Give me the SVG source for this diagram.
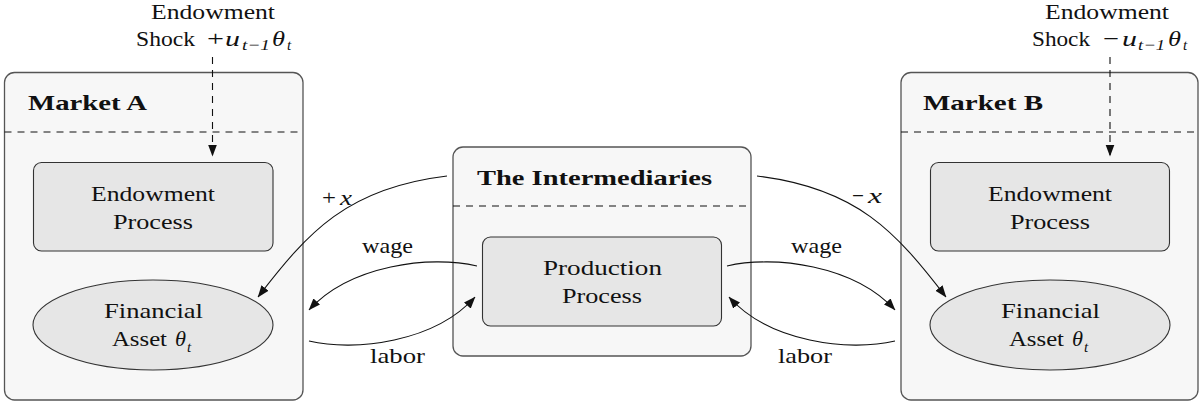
<svg xmlns="http://www.w3.org/2000/svg" width="1203" height="405" viewBox="0 0 1203 405" font-family="'Liberation Serif', serif">
<style>
text{font-family:'Liberation Serif',serif;font-size:22px;fill:#111}
.b{font-weight:bold;font-size:21px}
.i{font-style:italic}
.s{font-size:15px;font-style:italic}
.outer{fill:#f7f7f7;stroke:#555;stroke-width:1.3}
.inner{fill:#e6e6e6;stroke:#333;stroke-width:1.1}
.dash{stroke:#111;stroke-width:1.1;stroke-dasharray:7,6;fill:none}
.conn{fill:none;stroke:#111;stroke-width:1.1}
</style>
<defs>
<marker id="ah" viewBox="0 0 12 10" refX="11.5" refY="5" markerWidth="12" markerHeight="10" markerUnits="userSpaceOnUse" orient="auto">
<path d="M0,0.5 L12,5 L0,9.5 Z" fill="#111"/>
</marker>
</defs>
<rect width="1203" height="405" fill="#fff"/>

<g id="marketA">
<rect class="outer" x="4.5" y="72.5" width="298.5" height="327.5" rx="10"/>
<line class="dash" x1="4.5" y1="132" x2="303" y2="132"/>
<text class="b" x="28" y="110" textLength="119" lengthAdjust="spacingAndGlyphs">Market A</text>
</g>
<g id="endowA">
<rect class="inner" x="33.5" y="162.5" width="239.5" height="88.5" rx="8"/>
<text x="91" y="201" textLength="124" lengthAdjust="spacingAndGlyphs">Endowment</text>
<text x="113" y="229" textLength="80" lengthAdjust="spacingAndGlyphs">Process</text>
</g>
<g id="assetA">
<ellipse class="inner" cx="153" cy="325" rx="120" ry="45"/>
<text x="104" y="318" textLength="99" lengthAdjust="spacingAndGlyphs">Financial</text>
<text x="112" y="346" textLength="55" lengthAdjust="spacingAndGlyphs">Asset</text>
<text class="i" x="175" y="346" textLength="11" lengthAdjust="spacingAndGlyphs">θ</text>
<text class="s" x="187" y="352">t</text>
</g>
<g id="shockA">
<text x="151" y="19" textLength="124" lengthAdjust="spacingAndGlyphs">Endowment</text>
<text x="136" y="46" textLength="59" lengthAdjust="spacingAndGlyphs">Shock</text>
<text x="207" y="46" textLength="17" lengthAdjust="spacingAndGlyphs">+</text>
<text class="i" x="225" y="46" textLength="15" lengthAdjust="spacingAndGlyphs">u</text>
<text class="s" x="242" y="50" textLength="28" lengthAdjust="spacingAndGlyphs">t−1</text>
<text class="i" x="272" y="46" textLength="13" lengthAdjust="spacingAndGlyphs">θ</text>
<text class="s" x="287" y="50">t</text>
</g>

<g id="intermediaries">
<rect class="outer" x="453" y="147" width="298" height="209" rx="10"/>
<line class="dash" x1="453" y1="206" x2="751" y2="206"/>
<text class="b" x="477" y="185" textLength="235" lengthAdjust="spacingAndGlyphs">The Intermediaries</text>
</g>
<g id="production">
<rect class="inner" x="482.5" y="237" width="239" height="89" rx="8"/>
<text x="543" y="275" textLength="119" lengthAdjust="spacingAndGlyphs">Production</text>
<text x="562" y="303" textLength="80" lengthAdjust="spacingAndGlyphs">Process</text>
</g>

<g id="marketB">
<rect class="outer" x="901" y="72.5" width="297" height="327.5" rx="10"/>
<line class="dash" x1="901" y1="132" x2="1198" y2="132"/>
<text class="b" x="923" y="110" textLength="120" lengthAdjust="spacingAndGlyphs">Market B</text>
</g>
<g id="endowB">
<rect class="inner" x="930.5" y="162.5" width="239" height="88.5" rx="8"/>
<text x="988" y="201" textLength="124" lengthAdjust="spacingAndGlyphs">Endowment</text>
<text x="1010" y="229" textLength="80" lengthAdjust="spacingAndGlyphs">Process</text>
</g>
<g id="assetB">
<ellipse class="inner" cx="1050" cy="325" rx="120" ry="45"/>
<text x="1001" y="318" textLength="99" lengthAdjust="spacingAndGlyphs">Financial</text>
<text x="1009" y="346" textLength="55" lengthAdjust="spacingAndGlyphs">Asset</text>
<text class="i" x="1072" y="346" textLength="11" lengthAdjust="spacingAndGlyphs">θ</text>
<text class="s" x="1084" y="352">t</text>
</g>
<g id="shockB">
<text x="1045" y="19" textLength="124" lengthAdjust="spacingAndGlyphs">Endowment</text>
<text x="1032" y="46" textLength="58" lengthAdjust="spacingAndGlyphs">Shock</text>
<text x="1103" y="46" textLength="16" lengthAdjust="spacingAndGlyphs">−</text>
<text class="i" x="1122" y="46" textLength="15" lengthAdjust="spacingAndGlyphs">u</text>
<text class="s" x="1138" y="50" textLength="27" lengthAdjust="spacingAndGlyphs">t−1</text>
<text class="i" x="1168" y="46" textLength="13" lengthAdjust="spacingAndGlyphs">θ</text>
<text class="s" x="1183" y="50">t</text>
</g>

<g id="connectors">
<path class="dash" d="M212.5,57 L212.5,156" marker-end="url(#ah)"/>
<path class="dash" d="M1110,57 L1110,156" marker-end="url(#ah)"/>
<path class="conn" d="M447,176 C347,188 308,232 258,297" marker-end="url(#ah)"/>
<path class="conn" d="M477,266 C430,255 350,265 309,310" marker-end="url(#ah)"/>
<path class="conn" d="M309,341 C355,352 435,342 475,297" marker-end="url(#ah)"/>
<path class="conn" d="M757,176 C857,188 896,232 946,297" marker-end="url(#ah)"/>
<path class="conn" d="M727,266 C774,255 854,265 895,310" marker-end="url(#ah)"/>
<path class="conn" d="M895,341 C849,352 769,342 729,297" marker-end="url(#ah)"/>
<text x="322" y="205" textLength="14" lengthAdjust="spacingAndGlyphs">+</text>
<text class="i" x="340" y="205" textLength="12" lengthAdjust="spacingAndGlyphs">x</text>
<text x="852" y="203" textLength="12" lengthAdjust="spacingAndGlyphs">−</text>
<text class="i" x="868" y="203" textLength="14" lengthAdjust="spacingAndGlyphs">x</text>
<text x="362" y="253" textLength="51" lengthAdjust="spacingAndGlyphs">wage</text>
<text x="791" y="253" textLength="51" lengthAdjust="spacingAndGlyphs">wage</text>
<text x="370" y="363" textLength="55" lengthAdjust="spacingAndGlyphs">labor</text>
<text x="778" y="363" textLength="54" lengthAdjust="spacingAndGlyphs">labor</text>
</g>
</svg>
